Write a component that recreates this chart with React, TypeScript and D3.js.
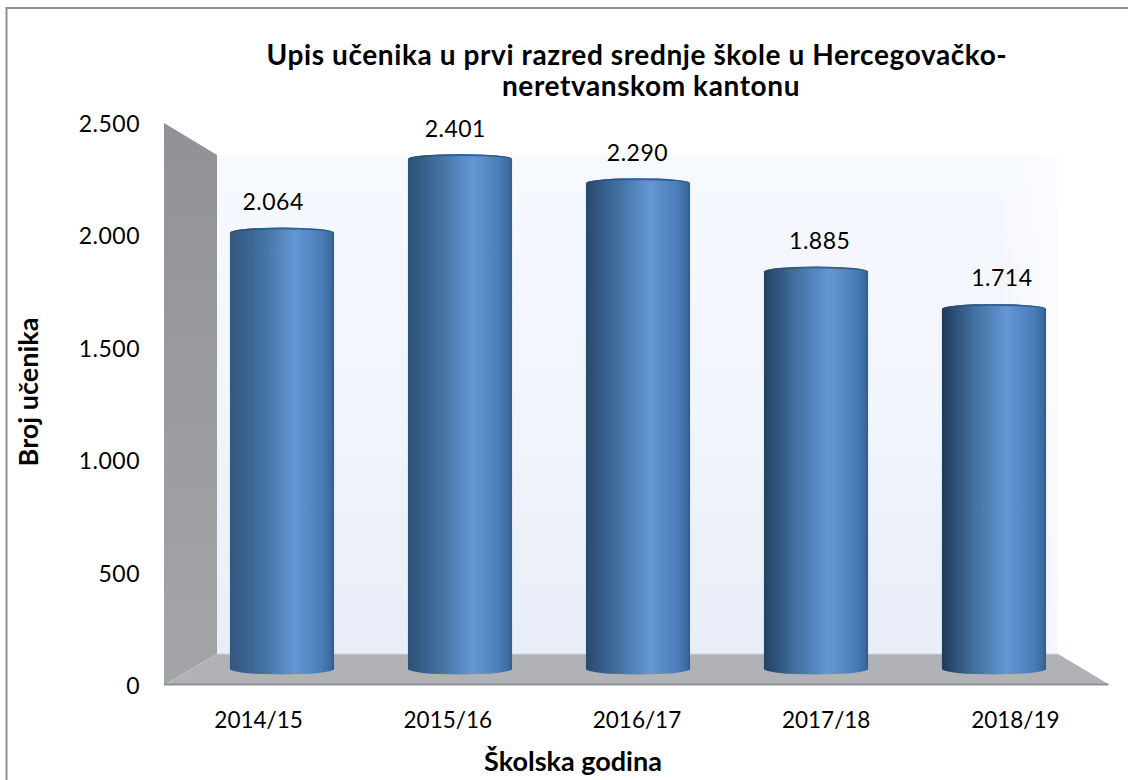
import React from "react";
import * as d3 from "d3";

const years = ["2014/15", "2015/16", "2016/17", "2017/18", "2018/19"];
const pupils = [2064, 2401, 2290, 1885, 1714];
const pupilLabels = ["2.064", "2.401", "2.290", "1.885", "1.714"];
const yTicks = [0, 500, 1000, 1500, 2000, 2500];
const yTickLabels = ["0", "500", "1.000", "1.500", "2.000", "2.500"];

const FONT = "Lato, Carlito, sans-serif";

export default function App() {
  // planes of the pseudo-3D box
  const frontY = d3.scaleLinear().domain([0, 2500]).range([685, 123]);
  const backY = d3.scaleLinear().domain([0, 2500]).range([654, 155]);
  const midY = d3.scaleLinear().domain([0, 2500]).range([683, 137.4]);
  const labelY = d3.scaleLinear().domain([0, 2500]).range([649, 106]);

  const frontX = d3.scaleBand<string>().domain(years).range([164, 1110]);
  const midX = d3.scaleBand<string>().domain(years).range([193, 1083]).paddingInner(0.415).paddingOuter(0.2075);
  const labelX = d3.scaleBand<string>().domain(years).range([182, 1093]);
  const leftShade = d3.scaleLinear<string>().domain([0, years.length - 1]).range(["#33587f", "#1f3a58"]);

  const left = 164, right = 1110, backL = 217, backR = 1058;
  const rx = midX.bandwidth() / 2;
  const ry = 5;
  const baseY = 669;

  const barPath = (yr: string, v: number) => {
    const x0 = midX(yr)!;
    const x1 = x0 + midX.bandwidth();
    const top = midY(v);
    return `M${x0},${top} A${rx},${ry} 0 0 1 ${x1},${top} L${x1},${baseY} A${rx},5.5 0 0 1 ${x0},${baseY} Z`;
  };

  return (
    <svg width={1128} height={780} style={{ position: "absolute", left: 0, top: 0, background: "#fff" }} fontFamily={FONT}>
      <defs>
        <linearGradient id="wall" x1="0" y1="0" x2="0" y2="1">
          <stop offset="0" stopColor="#f6f9fe" />
          <stop offset="0.5" stopColor="#f1f5fc" />
          <stop offset="1" stopColor="#e8edf7" />
        </linearGradient>
        <linearGradient id="wallFade" x1="0" y1="0" x2="1" y2="0">
          <stop offset="0.93" stopColor="#fff" stopOpacity={0} />
          <stop offset="1" stopColor="#fff" stopOpacity={0.6} />
        </linearGradient>
        <linearGradient id="side" x1="0" y1="0" x2="0" y2="1">
          <stop offset="0" stopColor="#929296" />
          <stop offset="1" stopColor="#a4a5a9" />
        </linearGradient>
        {years.map((yr, i) => (
          <linearGradient key={yr} id={`bar${i}`} x1="0" y1="0" x2="1" y2="0">
            <stop offset="0" stopColor={leftShade(i)} />
            <stop offset="0.1" stopColor={d3.interpolateRgb(leftShade(i), "#3d6a9f")(0.35)} />
            <stop offset="0.3" stopColor="#41709f" />
            <stop offset="0.62" stopColor="#6397d5" />
            <stop offset="0.88" stopColor="#4a7db9" />
            <stop offset="0.97" stopColor="#3a6a9f" />
            <stop offset="1" stopColor="#2f5a8c" />
          </linearGradient>
        ))}
        <linearGradient id="cap" x1="0" y1="0" x2="1" y2="0">
          <stop offset="0" stopColor="#24456c" />
          <stop offset="0.5" stopColor="#3a6694" />
          <stop offset="1" stopColor="#2a5080" />
        </linearGradient>
      </defs>

      <path d="M6.5,780 V8 H1128" fill="none" stroke="#8f8f8f" strokeWidth={2} />

      <polygon points={`${backL},${backY(2500)} ${backR},${backY(2500)} ${backR},${backY(0)} ${backL},${backY(0)}`} fill="url(#wall)" />
      <polygon points={`${backL},${backY(2500)} ${backR},${backY(2500)} ${backR},${backY(0)} ${backL},${backY(0)}`} fill="url(#wallFade)" />
      <polygon points={`${left},${frontY(2500)} ${backL},${backY(2500)} ${backL},${backY(0)} ${left},${frontY(0)}`} fill="url(#side)" />
      <polygon points={`${left},${frontY(0)} ${backL},${backY(0)} ${backR},${backY(0)} ${right},${frontY(0)}`} fill="#b0b2b5" />
      <line x1={backL} x2={backR} y1={backY(0)} y2={backY(0)} stroke="#d0d3d8" />
      <line x1={left} x2={right - 2} y1={frontY(0) - 0.5} y2={frontY(0) - 0.5} stroke="#8f9093" strokeWidth={2} />

      {years.map((yr, i) => (
        <g key={yr}>
          <path d={barPath(yr, pupils[i])} fill={`url(#bar${i})`} />
          <path
            d={`M${midX(yr)!},${midY(pupils[i])} A${rx},${ry} 0 0 1 ${midX(yr)! + 2 * rx},${midY(pupils[i])} A${rx},${ry - 2} 0 0 0 ${midX(yr)!},${midY(pupils[i])} Z`}
            fill="url(#cap)"
          />
          <text x={labelX(yr)! + labelX.bandwidth() / 2} y={labelY(pupils[i])} textAnchor="middle" dominantBaseline="central" fontSize={23} letterSpacing={0.5} fill="#000">
            {pupilLabels[i]}
          </text>
          <text x={frontX(yr)! + frontX.bandwidth() / 2} y={719} textAnchor="middle" dominantBaseline="central" fontSize={22.5} fill="#000">
            {yr}
          </text>
        </g>
      ))}

      {yTicks.map((t, i) => (
        <text key={t} x={140} y={frontY(t)} textAnchor="end" dominantBaseline="central" fontSize={23} letterSpacing={0.5} fill="#000">
          {yTickLabels[i]}
        </text>
      ))}

      <text textAnchor="middle" fontWeight={700} fontSize={28} letterSpacing={0.6} fill="#000">
        <tspan x={637} y={65}>Upis učenika u prvi razred srednje škole u Hercegovačko-</tspan>
        <tspan x={651} y={96}>neretvanskom kantonu</tspan>
      </text>
      <text x={573} y={771} textAnchor="middle" fontWeight={700} fontSize={27} fill="#000">
        Školska godina
      </text>
      <text transform="translate(38,392) rotate(-90)" textAnchor="middle" fontWeight={700} fontSize={27} fill="#000">
        Broj učenika
      </text>
    </svg>
  );
}
